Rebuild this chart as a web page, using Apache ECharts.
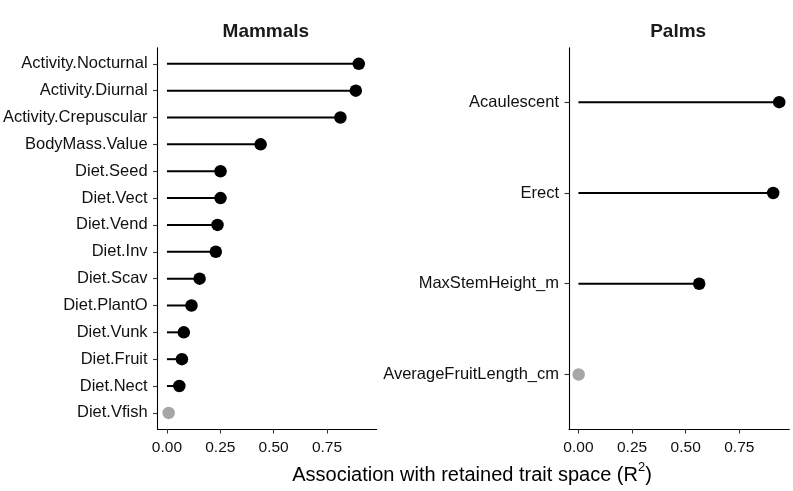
<!DOCTYPE html>
<html><head><meta charset="utf-8">
<script src="https://cdn.jsdelivr.net/npm/echarts@6/dist/echarts.min.js"></script>
<style>html,body{margin:0;padding:0;background:#fff}#c{width:793px;height:491px}</style>
</head><body><div id="c"></div>
<script>
const mammalCats = ["Activity.Nocturnal","Activity.Diurnal","Activity.Crepuscular","BodyMass.Value","Diet.Seed","Diet.Vect","Diet.Vend","Diet.Inv","Diet.Scav","Diet.PlantO","Diet.Vunk","Diet.Fruit","Diet.Nect","Diet.Vfish"];
const mammalVals = [0.899,0.885,0.813,0.439,0.251,0.251,0.237,0.229,0.153,0.115,0.079,0.070,0.058,0.008];
const mammalSig  = [1,1,1,1,1,1,1,1,1,1,1,1,1,0];
const palmCats = ["Acaulescent","Erect","MaxStemHeight_m","AverageFruitLength_cm"];
const palmVals = [0.936,0.908,0.563,0.001];
const palmSig  = [1,1,1,0];
const xTicks = [0, 0.25, 0.5, 0.75];
const panelTitles = ["Mammals","Palms"];

const FONT = "Liberation Sans, Arial, sans-serif";
const sigColor = s => s ? "#000000" : "#a6a6a6";

function yAxisFor(cats, gi){
  const idx = cats.map((c,i)=>i);
  return {
    type:"value", gridIndex:gi, inverse:true, min:-0.6, max:cats.length-1+0.6,
    axisLine:{show:true, onZero:false, lineStyle:{color:"#000", width:1.1}},
    axisTick:{show:true, length:4.5, lineStyle:{color:"#333", width:1.1}, customValues: idx},
    axisLabel:{customValues: idx, formatter: v => cats[Math.round(v)] || "", color:"#111",
      fontFamily:FONT, fontSize:16.5, margin:10, padding:[2,0,0,0]},
    splitLine:{show:false}
  };
}
function xAxisFor(gi){
  return {
    type:"value", gridIndex:gi, min:-0.044, max:0.983,
    axisLine:{show:true, onZero:false, lineStyle:{color:"#000", width:1.1}},
    axisTick:{show:true, length:4.5, lineStyle:{color:"#333", width:1.1}, customValues: xTicks},
    axisLabel:{customValues: xTicks, formatter: v => v.toFixed(2), color:"#111",
      fontFamily:FONT, fontSize:15.5, margin:11},
    splitLine:{show:false}
  };
}
function segSeries(vals, sig, gi){
  return {
    type:"custom", xAxisIndex:gi, yAxisIndex:gi, z:2,
    data: vals.map((v,i)=>[v,i,sig[i]]),
    renderItem:(params, api)=>{
      const p0 = api.coord([0, api.value(1)]);
      const p1 = api.coord([api.value(0), api.value(1)]);
      return {type:"line", shape:{x1:p0[0],y1:p0[1],x2:p1[0],y2:p1[1]},
        style:{stroke: sigColor(api.value(2)), lineWidth:2}};
    }
  };
}
function ptSeries(vals, sig, gi){
  return {
    type:"scatter", xAxisIndex:gi, yAxisIndex:gi, z:3, symbol:"circle", symbolSize:12.5,
    data: vals.map((v,i)=>({value:[v,i], itemStyle:{color: sigColor(sig[i]), opacity:1}})),
    itemStyle:{opacity:1},
    emphasis:{disabled:true}
  };
}

const chart = echarts.init(document.getElementById("c"), null, {renderer:"canvas"});
const grids = [
  {left:157, top:47.7, width:219.7, height:381.3},
  {left:569, top:47.7, width:220.3, height:381.3}
];
chart.setOption({
  animation:false,
  backgroundColor:"#fff",
  title: panelTitles.map((t,i)=>({
    text:t, left: grids[i].left + grids[i].width/2 - 1, top:22, textAlign:"center", padding:0,
    textStyle:{fontFamily:FONT, fontSize:19, fontWeight:"bold", color:"#1a1a1a"}
  })),
  grid: grids,
  xAxis:[xAxisFor(0), xAxisFor(1)],
  yAxis:[yAxisFor(mammalCats,0), yAxisFor(palmCats,1)],
  series:[
    segSeries(mammalVals, mammalSig, 0), ptSeries(mammalVals, mammalSig, 0),
    segSeries(palmVals, palmSig, 1), ptSeries(palmVals, palmSig, 1)
  ],
  graphic:[{
    type:"text", x:472, y:475,
    style:{
      text:"Association with retained trait space (R{sup|2})",
      align:"center", verticalAlign:"middle",
      fontFamily:FONT, fontSize:20, fill:"#000", lineHeight:28,
      rich:{sup:{fontFamily:FONT, fontSize:13, verticalAlign:"top", lineHeight:13, fill:"#000"}}
    }
  }]
});
</script></body></html>
